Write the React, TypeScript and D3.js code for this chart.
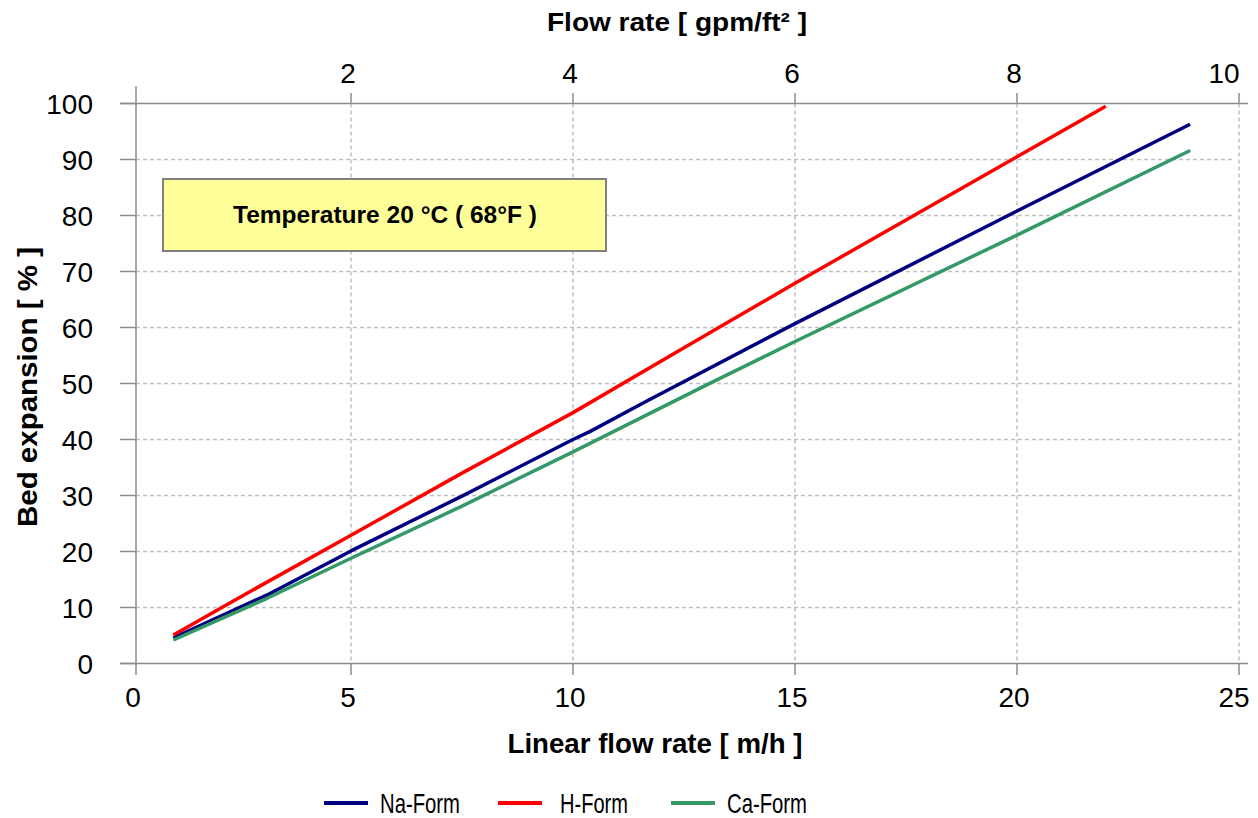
import React from "react";
import * as d3 from "d3";

const naX = [1, 3.1, 5, 7.5, 10, 10.4, 11.6, 15, 20, 23.9];
const naY = [4.6, 12.2, 20.1, 29.9, 40.0, 41.5, 46.6, 60.7, 80.8, 96.3];
const hX = [1, 2.4, 5, 7.5, 10, 12.5, 15, 17.5, 20, 22];
const hY = [5.1, 11.4, 22.9, 34.0, 44.8, 56.4, 67.9, 79.2, 90.5, 99.5];
const caX = [1, 3.1, 5, 7.5, 10, 13, 15, 20, 23.9];
const caY = [4.2, 11.6, 18.8, 28.1, 37.8, 49.7, 57.5, 76.5, 91.6];

const xTicks = [0, 5, 10, 15, 20, 25];
const topTicks = [0, 2, 4, 6, 8, 10];
const yTicks = [0, 10, 20, 30, 40, 50, 60, 70, 80, 90, 100];

const seriesNames = ["Na-Form", "H-Form", "Ca-Form"];
const seriesColors = ["#000080", "#FF0000", "#339966"];

const FONT = "'Liberation Sans', Arial, sans-serif";

export default function App() {
  const W = 1258, H = 818;
  const x = d3.scaleLinear().domain([0, 25]).range([129, 1239]);
  const xTop = d3.scaleLinear().domain([0, 10]).range([129, 1239]);
  const y = d3.scaleLinear().domain([0, 100]).range([663.5, 103.5]);
  const axisX = 136;
  const rightEnd = 1248;
  const gridColor = "#c0c0c0";
  const axisColor = "#8c8c8c";

  const line = d3.line<[number, number]>().x(d => x(d[0])).y(d => y(d[1]));
  const series = [
    naX.map((v, i) => [v, naY[i]] as [number, number]),
    hX.map((v, i) => [v, hY[i]] as [number, number]),
    caX.map((v, i) => [v, caY[i]] as [number, number]),
  ];

  const legendItems = [
    { lx: 324, tx: 380, tw: 80 },
    { lx: 498, tx: 560, tw: 68 },
    { lx: 671, tx: 727, tw: 80 },
  ];

  const bottomLabelX = (t: number) => (t === 0 ? 133 : t === 25 ? x(t) - 5 : x(t) - 3);
  const topLabelX = (t: number) => (t === 10 ? xTop(t) - 15 : xTop(t) - 3);

  return (
    <svg width={W} height={H} style={{ position: "absolute", left: 0, top: 0, background: "#fff" }} fontFamily={FONT}>
      <rect width={W} height={H} fill="#fff" />
      {yTicks.filter(t => t > 0 && t < 100).map(t => (
        <line key={"hg" + t} x1={axisX} x2={1233} y1={y(t)} y2={y(t)} stroke={gridColor} strokeWidth={1.5} strokeDasharray="4,3" />
      ))}
      {xTicks.filter(t => t > 0).map(t => (
        <line key={"vg" + t} x1={x(t)} x2={x(t)} y1={y(100)} y2={y(0)} stroke={gridColor} strokeWidth={1.5} strokeDasharray="4,3" />
      ))}
      <line x1={120} x2={rightEnd} y1={y(0)} y2={y(0)} stroke={axisColor} strokeWidth={1.5} />
      <line x1={120} x2={rightEnd} y1={y(100)} y2={y(100)} stroke={axisColor} strokeWidth={1.5} />
      <line x1={axisX} x2={axisX} y1={86} y2={675} stroke={axisColor} strokeWidth={1.5} />
      {yTicks.map(t => (
        <line key={"yt" + t} x1={120} x2={axisX} y1={y(t)} y2={y(t)} stroke={axisColor} strokeWidth={1.5} />
      ))}
      {xTicks.filter(t => t > 0).map(t => (
        <line key={"xt" + t} x1={x(t)} x2={x(t)} y1={y(0)} y2={675} stroke={axisColor} strokeWidth={1.5} />
      ))}
      {topTicks.filter(t => t > 0).map(t => (
        <line key={"tt" + t} x1={xTop(t)} x2={xTop(t)} y1={93} y2={y(100)} stroke={axisColor} strokeWidth={1.5} />
      ))}
      {yTicks.map(t => (
        <text key={"yl" + t} x={93} y={y(t)} dy="0.36em" textAnchor="end" fontSize={28} fill="#000">{t}</text>
      ))}
      {xTicks.map(t => (
        <text key={"xl" + t} x={bottomLabelX(t)} y={707} textAnchor="middle" fontSize={28} fill="#000">{t}</text>
      ))}
      {topTicks.filter(t => t > 0).map(t => (
        <text key={"tl" + t} x={topLabelX(t)} y={83} textAnchor="middle" fontSize={28} fill="#000">{t}</text>
      ))}
      <text x={655} y={753} textAnchor="middle" fontSize={27} fontWeight="bold" textLength={295} lengthAdjust="spacingAndGlyphs">Linear flow rate [ m/h ]</text>
      <text x={677} y={31} textAnchor="middle" fontSize={26} fontWeight="bold" textLength={260} lengthAdjust="spacingAndGlyphs">Flow rate [ gpm/ft² ]</text>
      <text transform="translate(37,387) rotate(-90)" textAnchor="middle" fontSize={28} fontWeight="bold" textLength={280} lengthAdjust="spacingAndGlyphs">Bed expansion [ % ]</text>
      <rect x={163} y={179} width={443} height={72} fill="#FFFF99" stroke="#808080" strokeWidth={2} />
      <text x={385} y={223} textAnchor="middle" fontSize={24} fontWeight="bold" textLength={304} lengthAdjust="spacingAndGlyphs">Temperature 20 °C ( 68°F )</text>
      {series.map((s, i) => (
        <path key={"s" + i} d={line(s) || ""} fill="none" stroke={seriesColors[i]} strokeWidth={3.5} strokeLinejoin="round" />
      ))}
      {legendItems.map((it, i) => (
        <g key={"lg" + i}>
          <line x1={it.lx} x2={it.lx + 44} y1={803} y2={803} stroke={seriesColors[i]} strokeWidth={4} />
          <text x={it.tx} y={813} fontSize={28} textLength={it.tw} lengthAdjust="spacingAndGlyphs">{seriesNames[i]}</text>
        </g>
      ))}
    </svg>
  );
}
